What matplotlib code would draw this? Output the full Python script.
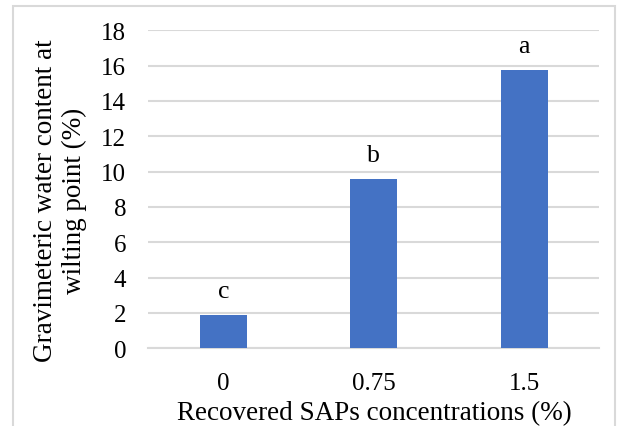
import matplotlib
matplotlib.use("Agg")
import matplotlib.pyplot as plt
from matplotlib.patches import Rectangle

categories = ["0", "0.75", "1.5"]
values = [1.9, 9.6, 15.75]
letters = ["c", "b", "a"]
yticks = [0, 2, 4, 6, 8, 10, 12, 14, 16, 18]

plt.rcParams['font.family'] = ['Liberation Serif', 'DejaVu Serif']

W, H = 617, 427
fig = plt.figure(figsize=(W / 100, H / 100), dpi=100)
ax = fig.add_axes([148.4 / W, 1 - 349.3 / H, (599.4 - 148.4) / W, (349.3 - 31.3) / H])

x = list(range(len(categories)))
ax.bar(x, values, width=0.313, color="#4472C4", zorder=3)
for xi, v, l in zip(x, values, letters):
    ax.annotate(l, (xi, v), xytext=(0, 13), textcoords="offset points",
                ha="center", va="baseline", fontsize=18.5, color="black")

ax.set_xlim(-0.5, 2.5)
ax.set_ylim(0, 18)
ax.set_yticks(yticks)
ax.set_yticklabels([str(t) for t in yticks])
ax.set_xticks(x)
ax.set_xticklabels(categories)
ax.tick_params(axis="both", length=0, labelsize=18, colors="black")
ax.tick_params(axis="y", pad=16)
ax.tick_params(axis="x", pad=17)
ax.grid(axis="y", color="#d9d9d9", linewidth=1.5, zorder=0)
for s in ["top", "right", "left"]:
    ax.spines[s].set_visible(False)
ax.spines["bottom"].set_color("#d9d9d9")
ax.spines["bottom"].set_linewidth(1.5)
ax.spines["bottom"].set_zorder(1)

fig.text(60 / W, 1 - 201 / H, "Gravimeteric water content at\nwilting point (%)",
         rotation=90, ha="center", va="center", multialignment="center",
         fontsize=19.5, linespacing=1.15)
fig.text(374 / W, 1 - 414 / H, "Recovered SAPs concentrations (%)",
         ha="center", va="center", fontsize=19.5)

border = Rectangle((12.7 / W, -0.05), (615 - 12.7) / W, 1.05 - 6.7 / H,
                   transform=fig.transFigure, fill=False, edgecolor="#d9d9d9",
                   linewidth=1.5)
fig.patches.append(border)

fig.savefig("out.png", dpi=100)
